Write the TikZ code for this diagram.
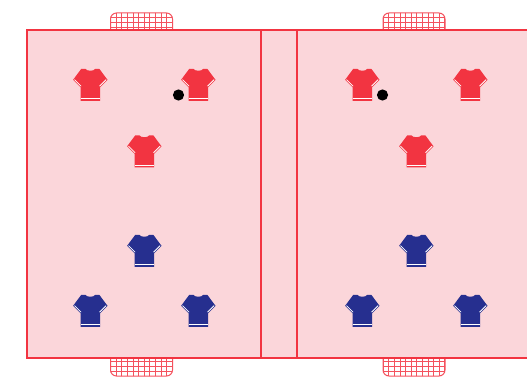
\documentclass[tikz,border=0pt]{standalone}
\definecolor{linered}{HTML}{F23441}
\definecolor{pitch}{HTML}{FBD6DA}
\definecolor{navy}{HTML}{262F8F}
\newcommand{\shirt}[3]{%
\begin{scope}[shift={(#1,#2)}]
 \fill[#3] (-5,-16.2) .. controls (-3.5,-13.6) and (3.5,-13.6) .. (5,-16.2) -- (9,-16.2) -- (17.2,-5.2) -- (9.7,2.3) -- (9.7,15.8) -- (-9.7,15.8) -- (-9.7,2.3) -- (-17.2,-5.2) -- (-9,-16.2) -- cycle;
 \draw[white,line width=.8pt] (-9.7,13.6) -- (9.7,13.6);
 \draw[white,line width=.8pt] (-15.8,-5.4) -- (-9.2,1.2) (15.8,-5.4) -- (9.2,1.2);
\end{scope}}
\tikzset{goalline/.style={draw=linered!85,line width=1pt},fieldline/.style={draw=linered,line width=2pt},
 goaltopshape/.style={insert path={(110.5,30) [rounded corners=6pt] -- (110.5,13) -- (172.5,13) [sharp corners] -- (172.5,30)}},
 goalbotshape/.style={insert path={(110.5,358) [rounded corners=6pt] -- (110.5,376) -- (172.5,376) [sharp corners] -- (172.5,358)}}}
\newcommand{\goaltop}[1]{%
\begin{scope}[shift={(#1,0)}]
 \begin{scope}
 \clip[goaltopshape] -- cycle;
 \foreach \k in {0,...,11} \draw[goalline] ({110.7+5.6*\k},10) -- ({110.7+5.6*\k},30);
 \foreach \k in {1,...,3} \draw[goalline] (108,{13+4.8*\k}) -- (175,{13+4.8*\k});
 \end{scope}
 \draw[goalline,goaltopshape];
\end{scope}}
\newcommand{\goalbot}[1]{%
\begin{scope}[shift={(#1,0)}]
 \begin{scope}
 \clip[goalbotshape] -- cycle;
 \foreach \k in {0,...,11} \draw[goalline] ({110.7+5.6*\k},358) -- ({110.7+5.6*\k},378);
 \foreach \k in {1,...,3} \draw[goalline] (108,{376-4.8*\k}) -- (175,{376-4.8*\k});
 \end{scope}
 \draw[goalline,goalbotshape];
\end{scope}}
\begin{document}
\begin{tikzpicture}[x=1pt,y=-1pt]
\useasboundingbox (0,0) rectangle (527,377);
\begin{scope}
\clip (0,0) rectangle (527,377);
\goaltop{0}
\goaltop{272.5}
\goalbot{0}
\goalbot{272.5}
\filldraw[fieldline,fill=pitch] (27,30) rectangle (560,358);
\draw[fieldline] (261,30) -- (261,358) (297,30) -- (297,358);
\foreach \dx in {0,272}{
 \shirt{90.3+\dx}{85}{linered}
 \shirt{198.3+\dx}{85}{linered}
 \shirt{144.3+\dx}{151.5}{linered}
 \shirt{144.3+\dx}{251}{navy}
 \shirt{90.3+\dx}{311}{navy}
 \shirt{198.3+\dx}{311}{navy}
}
\fill[black] (178.5,95) circle (5.6);
\fill[black] (382.5,95) circle (5.6);
\end{scope}
\end{tikzpicture}
\end{document}
